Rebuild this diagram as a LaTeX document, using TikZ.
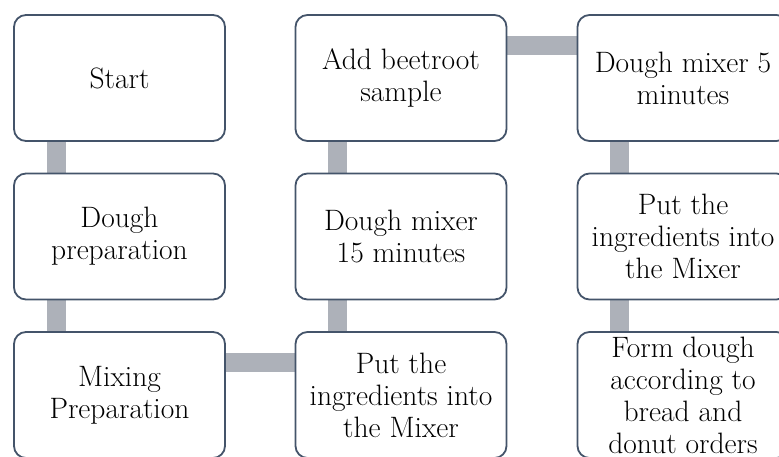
\documentclass[tikz,border=0pt]{standalone}
\usetikzlibrary{backgrounds}
\definecolor{frame}{HTML}{44546A}
\definecolor{bar}{HTML}{ADB1B9}
\tikzset{
  stage/.style={draw=frame,line width=1.8pt,rounded corners=12pt,fill=white,
    minimum width=211pt,minimum height=126pt,inner sep=2pt,align=center,
    font=\fontsize{29.5}{32}\selectfont},
  link/.style={bar,line width=19pt}
}
\begin{document}
\begin{tikzpicture}[x=1pt,y=-1pt]
  \useasboundingbox (0,0) rectangle (779,457);
  % column 1
  \node[stage] (start)   at (119.5,78)  {Start};
  \node[stage] (prep)    at (119.5,236.5) {Dough\\preparation};
  \node[stage] (mixprep) at (119.5,395) {Mixing\\Preparation};
  % column 2
  \node[stage] (put1)    at (401,395)   {Put the\\ingredients into\\the Mixer};
  \node[stage] (mix15)   at (401,236.5) {Dough mixer\\15 minutes};
  \node[stage] (beet)    at (401,78)    {Add beetroot\\sample};
  % column 3
  \node[stage] (mix5)    at (683,78)    {Dough mixer 5\\minutes};
  \node[stage] (put2)    at (683,236.5) {Put the\\ingredients into\\the Mixer};
  \node[stage] (form)    at (683,395)   {Form dough\\according to\\bread and\\donut orders};
  \begin{scope}[on background layer]
    \draw[link] ([xshift=43pt]start.south west) -- ([xshift=43pt]prep.north west);
    \draw[link] ([xshift=43pt]prep.south west) -- ([xshift=43pt]mixprep.north west);
    \draw[link] ([yshift=-31pt]mixprep.north east) -- ([yshift=-31pt]put1.north west);
    \draw[link] ([xshift=43pt]put1.north west) -- ([xshift=43pt]mix15.south west);
    \draw[link] ([xshift=43pt]mix15.north west) -- ([xshift=43pt]beet.south west);
    \draw[link] ([yshift=-31pt]beet.north east) -- ([yshift=-31pt]mix5.north west);
    \draw[link] ([xshift=43pt]mix5.south west) -- ([xshift=43pt]put2.north west);
    \draw[link] ([xshift=43pt]put2.south west) -- ([xshift=43pt]form.north west);
  \end{scope}
\end{tikzpicture}
\end{document}
